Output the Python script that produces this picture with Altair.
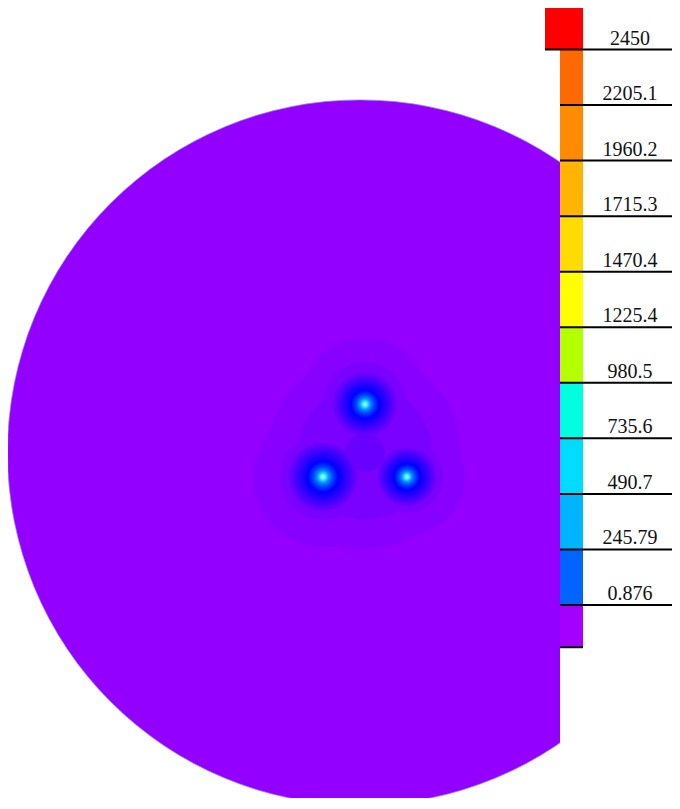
import altair as alt
import pandas as pd

# ---------------- legend data ----------------
level_labels = ["2450", "2205.1", "1960.2", "1715.3", "1470.4", "1225.4",
                "980.5", "735.6", "490.7", "245.79", "0.876"]
level_values = [2450.0, 2205.1, 1960.2, 1715.3, 1470.4, 1225.4,
                980.5, 735.6, 490.7, 245.79, 0.876]
top_color = "#ff0000"
band_colors = ["#ff6a00", "#ff8c00", "#ffb400", "#ffdc00", "#ffff00",
               "#b4ff00", "#00ffe0", "#00dcff", "#00b4ff", "#0064ff"]
bottom_color = "#a400ff"

# ---------------- field data (model units, disk radius 100) ----------------
disk_radius = 100.0
disk_color = "#9400ff"
src_x = [1.4, 1.4, -10.5, 13.3]      # centroid, top, left, right
src_y = [0.0, 13.7, -6.9, -6.9]
level_colors = ["#8800ff", "#7a00ff", "#6900ff"]
level_radii = [                        # centroid, top, left, right
    [27.5, 18.7, 19.9, 16.5],
    [19.0, 11.9, 12.2, 10.2],
    [5.5, 9.0, 9.6, 8.2],
]
spot_radii = [8.8, 9.6, 8.1]           # glow radius of top, left, right hot spots

# ---------------- layout ----------------
W, H = 664, 790
ppu = 3.525                 # px per model unit
cx, cy = 352.0, 444.5       # disk centre in svg px
x_dom = [(0 - cx) / ppu, (W - cx) / ppu]
y_dom = [-(H - cy) / ppu, cy / ppu]

y_top_line, y_bot_line = 41.5, 597.0
ppv = (y_bot_line - y_top_line) / (level_values[0] - level_values[-1])
v_dom = [level_values[0] - (H - y_top_line) / ppv, level_values[0] + y_top_line / ppv]
step = (level_values[0] - level_values[-1]) / 10
red_top = level_values[0] + 0.8 * step
bottom_val = level_values[-1] - 0.76 * step

# ---------------- build tables ----------------
rows = []
for lc, radii in zip(level_colors, level_radii):
    for x, y, r in zip(src_x, src_y, radii):
        rows.append({"x": x, "y": y, "r": r, "c": lc})
field_df = pd.DataFrame(rows)
field_df["a"] = field_df["r"] ** 2
field_df["o"] = range(len(field_df))
spots_df = pd.DataFrame({"x": src_x[1:], "y": src_y[1:], "r": spot_radii})
spots_df["a"] = spots_df["r"] ** 2
disk_df = pd.DataFrame({"x": [0.0], "y": [0.0], "r": [disk_radius], "c": [disk_color]})
disk_df["a"] = disk_df["r"] ** 2

bands_df = pd.DataFrame({
    "top": level_values[:-1] + [level_values[-1]],
    "bottom": level_values[1:] + [bottom_val],
    "c": band_colors + [bottom_color],
})
red_df = pd.DataFrame({"top": [red_top], "bottom": [level_values[0]], "c": [top_color]})
lines_df = pd.DataFrame({"v": level_values[1:]})
topline_df = pd.DataFrame({"v": [level_values[0]]})
botline_df = pd.DataFrame({"v": [bottom_val]})
labels_df = pd.DataFrame({"v": level_values, "t": level_labels})
panel_df = pd.DataFrame({"a": [0]})

X = alt.X("x:Q", scale=alt.Scale(domain=x_dom, nice=False, zero=False), axis=None)
Y = alt.Y("y:Q", scale=alt.Scale(domain=y_dom, nice=False, zero=False), axis=None)
S = alt.Size("a:Q", scale=alt.Scale(type="linear", domain=[0, disk_radius ** 2],
                                    range=[0, (2 * disk_radius * ppu) ** 2],
                                    zero=True, nice=False), legend=None)

def vscale(field):
    return alt.Y(field, scale=alt.Scale(domain=v_dom, nice=False, zero=False), axis=None)

glow = alt.RadialGradient(
    gradient="radial", x1=0.5, y1=0.5, r1=0, x2=0.5, y2=0.5, r2=0.5,
    stops=[
        alt.GradientStop(color="#a0ff80", offset=0.0),
        alt.GradientStop(color="#80ffff", offset=0.04),
        alt.GradientStop(color="#30d8ff", offset=0.1),
        alt.GradientStop(color="#0090ff", offset=0.18),
        alt.GradientStop(color="#0040ff", offset=0.3),
        alt.GradientStop(color="#0000ff", offset=0.45),
        alt.GradientStop(color="#1c00ff", offset=0.6),
        alt.GradientStop(color="#3c00ff", offset=0.75),
        alt.GradientStop(color="#5600ff", offset=0.88),
        alt.GradientStop(color="rgba(105,0,255,0)", offset=1.0),
    ],
)

disk = alt.Chart(disk_df).mark_circle(opacity=1, stroke="#8f86ff", strokeWidth=1,
                                      strokeOpacity=0.7).encode(
    x=X, y=Y, size=S, fill=alt.Fill("c:N", scale=None))
field = alt.Chart(field_df).mark_circle(opacity=1, strokeWidth=0).encode(
    x=X, y=Y, size=S, fill=alt.Fill("c:N", scale=None), order="o:Q")
spots = alt.Chart(spots_df).mark_circle(opacity=1, strokeWidth=0, fill=glow).encode(
    x=X, y=Y, size=S)

panel = alt.Chart(panel_df).mark_rect(color="white").encode(
    x=alt.value(552), x2=alt.value(W), y=alt.value(0), y2=alt.value(H))
bands = alt.Chart(bands_df).mark_rect().encode(
    x=alt.value(552), x2=alt.value(575), y=vscale("top:Q"), y2="bottom:Q",
    fill=alt.Fill("c:N", scale=None))
redbox = alt.Chart(red_df).mark_rect().encode(
    x=alt.value(537), x2=alt.value(575), y=vscale("top:Q"), y2="bottom:Q",
    fill=alt.Fill("c:N", scale=None))
lines = alt.Chart(lines_df).mark_rule(color="black", strokeWidth=2).encode(
    y=vscale("v:Q"), x=alt.value(552), x2=alt.value(W))
topline = alt.Chart(topline_df).mark_rule(color="black", strokeWidth=2).encode(
    y=vscale("v:Q"), x=alt.value(537), x2=alt.value(W))
botline = alt.Chart(botline_df).mark_rule(color="black", strokeWidth=2).encode(
    y=vscale("v:Q"), x=alt.value(552), x2=alt.value(575))
labels = alt.Chart(labels_df).mark_text(font="Liberation Serif", fontSize=20,
                                        color="#111111", align="center",
                                        baseline="alphabetic", dy=-5).encode(
    y=vscale("v:Q"), x=alt.value(622), text="t:N")

chart = alt.layer(disk, field, spots, panel, bands, redbox, lines, topline, botline,
                  labels).resolve_scale(
    x="independent", y="independent", size="independent"
).properties(
    width=W, height=H, padding=0, autosize=alt.AutoSizeParams(type="none"),
    background="white"
).configure_view(stroke=None)

chart.save("out.html", embed_options={"renderer": "svg", "actions": False})
